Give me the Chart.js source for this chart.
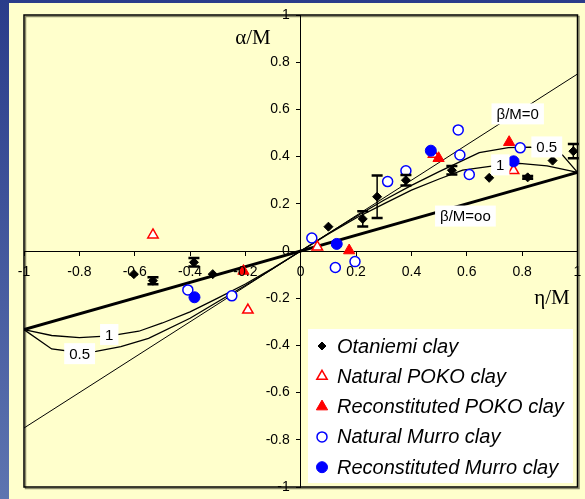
<!DOCTYPE html>
<html>
<head>
<meta charset="utf-8">
<script src="https://cdn.jsdelivr.net/npm/chart.js@4/dist/chart.umd.min.js"></script>
<style>
html, body { margin: 0; padding: 0; background: #ffffcc; }
#wrap { width: 585px; height: 499px; }
</style>
</head>
<body>
<div id="wrap"><canvas id="myChart" width="585" height="499"></canvas></div>
<script>
// tick labels
const xTicks = [-1, -0.8, -0.6, -0.4, -0.2, 0, 0.2, 0.4, 0.6, 0.8, 1];
const yTicks = [-1, -0.8, -0.6, -0.4, -0.2, 0, 0.2, 0.4, 0.6, 0.8, 1];

// Otaniemi clay (err = half height of the error bar, 0 = none)
const otaniemiEta   = [-0.603, -0.534, -0.386, -0.318, 0.10, 0.224, 0.276, 0.38, 0.546, 0.681, 0.82, 0.91, 0.985];
const otaniemiAlpha = [-0.098, -0.126, -0.048, -0.098, 0.103, 0.136, 0.23, 0.30, 0.342, 0.31, 0.312, 0.383, 0.423];
const otaniemiErr   = [0, 0.015, 0.018, 0, 0, 0.032, 0.09, 0.022, 0.018, 0, 0.006, 0, 0.03];

const natPokoEta   = [-0.534, -0.191, 0.06, 0.48, 0.769];
const natPokoAlpha = [0.068, -0.25, 0.017, 0.41, 0.341];

const recPokoEta   = [-0.207, 0.175, 0.498, 0.753];
const recPokoAlpha = [-0.085, 0.002, 0.393, 0.461];

const natMurroEta   = [-0.408, -0.249, 0.04, 0.125, 0.196, 0.314, 0.38, 0.569, 0.575, 0.609, 0.793];
const natMurroAlpha = [-0.165, -0.19, 0.055, -0.07, -0.045, 0.294, 0.34, 0.513, 0.407, 0.324, 0.437];

const recMurroEta   = [-0.384, 0.13, 0.47, 0.769];
const recMurroAlpha = [-0.196, 0.03, 0.425, 0.38];

// model lines for beta/M = 0, 0.5, 1, oo
const lineEndsEta = [-1, 1];
const beta0Alpha  = [-0.75, 0.75];
const betaInfAlpha = [-0.333, 0.333];

const beta05Eta   = [-1, -0.9, -0.8, -0.74, -0.65, -0.55, -0.4, -0.3, -0.2, -0.1, 0, 0.1, 0.2, 0.3, 0.4, 0.5, 0.645, 0.75, 0.83, 0.946, 1];
const beta05Alpha = [-0.333, -0.415, -0.43, -0.425, -0.405, -0.37, -0.285, -0.215, -0.146, -0.074, 0, 0.074, 0.146, 0.215, 0.278, 0.336, 0.417, 0.438, 0.44, 0.406, 0.333];

const beta1Eta   = [-1, -0.9, -0.8, -0.69, -0.585, -0.5, -0.4, -0.3, -0.2, -0.1, 0, 0.1, 0.2, 0.3, 0.4, 0.5, 0.585, 0.69, 0.79, 0.89, 1];
const beta1Alpha = [-0.333, -0.358, -0.367, -0.36, -0.34, -0.305, -0.258, -0.2, -0.14, -0.072, 0, 0.072, 0.14, 0.2, 0.258, 0.305, 0.343, 0.36, 0.371, 0.361, 0.333];

function pts(xs, ys) {
    return xs.map((x, i) => ({x: x, y: ys[i]}));
}

function fmt(v) {
    return String(Number(v.toFixed(1)));
}

const FONT = '"Liberation Sans", Arial, sans-serif';

// background, yellow panel and plot frame
const backdrop = {
    id: 'backdrop',
    beforeDraw(chart) {
        const c = chart.ctx, a = chart.chartArea;
        c.save();
        const g = c.createLinearGradient(0, 0, 0, chart.height);
        g.addColorStop(0, '#2a3c8a');
        g.addColorStop(1, '#5d74b0');
        c.fillStyle = g;
        c.fillRect(0, 0, chart.width, chart.height);
        c.fillStyle = '#ffffcc';
        c.fillRect(9, 3, chart.width - 9, chart.height - 3);
        c.strokeStyle = '#8a8a6a';
        c.lineWidth = 1.5;
        c.strokeRect(a.left + 1.5, a.top + 1.5, a.right - a.left, a.bottom - a.top);
        c.strokeStyle = '#000';
        c.strokeRect(a.left, a.top, a.right - a.left, a.bottom - a.top);
        c.restore();
    }
};

// tick labels sit next to the centred axes
const axisLabels = {
    id: 'axisLabels',
    afterDraw(chart) {
        const c = chart.ctx, xs = chart.scales.x, ys = chart.scales.y;
        const ax = xs.getPixelForValue(0);
        const ay = ys.getPixelForValue(0);
        c.save();
        c.font = '14px ' + FONT;
        c.fillStyle = '#000';
        c.textAlign = 'right';
        c.textBaseline = 'middle';
        yTicks.forEach(v => {
            c.fillText(fmt(v), ax - 11, ys.getPixelForValue(v));
        });
        c.textAlign = 'center';
        xTicks.forEach(v => {
            c.fillText(fmt(v), xs.getPixelForValue(v), ay + 21);
        });
        c.restore();
    }
};

// error bars on the Otaniemi points
const errorBars = {
    id: 'errorBars',
    afterDatasetsDraw(chart) {
        const c = chart.ctx, xs = chart.scales.x, ys = chart.scales.y;
        c.save();
        c.strokeStyle = '#000';
        otaniemiErr.forEach((e, i) => {
            if (!e) return;
            const px = xs.getPixelForValue(otaniemiEta[i]);
            const top = ys.getPixelForValue(otaniemiAlpha[i] + e);
            const bot = ys.getPixelForValue(otaniemiAlpha[i] - e);
            c.lineWidth = 1.5;
            c.beginPath();
            c.moveTo(px, top); c.lineTo(px, bot);
            c.stroke();
            c.lineWidth = 2.5;
            c.beginPath();
            c.moveTo(px - 5.5, top); c.lineTo(px + 5.5, top);
            c.moveTo(px - 5.5, bot); c.lineTo(px + 5.5, bot);
            c.stroke();
        });
        c.restore();
    }
};

// white boxed labels on the model lines
const curveLabels = [
    {text: 'β/M=0', eta: 0.784, alpha: 0.581},
    {text: '0.5', eta: 0.889, alpha: 0.441},
    {text: '1', eta: 0.721, alpha: 0.365},
    {text: 'β/M=oo', eta: 0.595, alpha: 0.148},
    {text: '1', eta: -0.692, alpha: -0.354},
    {text: '0.5', eta: -0.799, alpha: -0.435}
];

const lineLabels = {
    id: 'lineLabels',
    afterDatasetsDraw(chart) {
        const c = chart.ctx, xs = chart.scales.x, ys = chart.scales.y;
        c.save();
        c.font = '15px ' + FONT;
        c.textAlign = 'center';
        c.textBaseline = 'middle';
        curveLabels.forEach(l => {
            const px = xs.getPixelForValue(l.eta), py = ys.getPixelForValue(l.alpha);
            const w = c.measureText(l.text).width + 10;
            const h = 21;
            c.fillStyle = '#fff';
            c.fillRect(px - w / 2, py - h / 2, w, h);
            c.fillStyle = '#000';
            c.fillText(l.text, px, py + 1);
        });
        // axis titles
        c.font = '21px "Liberation Serif", "Times New Roman", serif';
        c.fillText('α/M', 253, 38);
        c.fillText('η/M', 552, 298);
        c.restore();
    }
};

// legend box inside the plot
const boxLegend = {
    id: 'boxLegend',
    afterDraw(chart) {
        const c = chart.ctx;
        c.save();
        c.fillStyle = '#fff';
        c.fillRect(308, 329, 265, 154);
        c.font = 'italic 20px ' + FONT;
        c.textAlign = 'left';
        c.textBaseline = 'middle';
        chart.data.datasets.filter(d => !d.showLine).forEach((d, i) => {
            const y = 346 + i * 30.3;
            c.fillStyle = d.backgroundColor;
            c.strokeStyle = d.borderColor;
            c.lineWidth = d.borderWidth;
            Chart.helpers.drawPoint(c, {
                pointStyle: d.pointStyle,
                radius: d.pointStyle === 'rectRot' ? 4 : d.pointRadius,
                rotation: 0,
                borderWidth: d.borderWidth
            }, 322, y);
            c.fillStyle = '#000';
            c.fillText(d.label, 337, y + 1);
        });
        c.restore();
    }
};

const lineStyle = (label, data, width) => ({
    label: label,
    data: data,
    showLine: true,
    borderColor: '#000',
    borderWidth: width,
    pointRadius: 0,
    tension: 0,
    order: 10
});

const ctx = document.getElementById('myChart').getContext('2d');
const chart = new Chart(ctx, {
    type: 'scatter',
    data: {
        datasets: [
            {
                label: 'Otaniemi clay',
                data: pts(otaniemiEta, otaniemiAlpha),
                pointStyle: 'rectRot',
                pointRadius: 4.5,
                backgroundColor: '#000',
                borderColor: '#000',
                borderWidth: 1,
                order: 1
            },
            {
                label: 'Natural POKO clay',
                data: pts(natPokoEta, natPokoAlpha),
                pointStyle: 'triangle',
                pointRadius: 6,
                backgroundColor: '#fff',
                borderColor: '#ff0000',
                borderWidth: 1.5,
                order: 2
            },
            {
                label: 'Reconstituted POKO clay',
                data: pts(recPokoEta, recPokoAlpha),
                pointStyle: 'triangle',
                pointRadius: 6.5,
                backgroundColor: '#ff0000',
                borderColor: '#ff0000',
                borderWidth: 1,
                order: 1
            },
            {
                label: 'Natural Murro clay',
                data: pts(natMurroEta, natMurroAlpha),
                pointStyle: 'circle',
                pointRadius: 5,
                backgroundColor: '#fff',
                borderColor: '#0000ff',
                borderWidth: 1.5,
                order: 2
            },
            {
                label: 'Reconstituted Murro clay',
                data: pts(recMurroEta, recMurroAlpha),
                pointStyle: 'circle',
                pointRadius: 5.5,
                backgroundColor: '#0000ff',
                borderColor: '#0000ff',
                borderWidth: 1,
                order: 0
            },
            lineStyle('β/M=0', pts(lineEndsEta, beta0Alpha), 1),
            lineStyle('β/M=oo', pts(lineEndsEta, betaInfAlpha), 3),
            lineStyle('0.5', pts(beta05Eta, beta05Alpha), 1.3),
            lineStyle('1', pts(beta1Eta, beta1Alpha), 1.3)
        ]
    },
    options: {
        responsive: false,
        animation: false,
        layout: {
            padding: {left: 24, top: 15, right: 6, bottom: 12}
        },
        plugins: {
            legend: {display: false},
            tooltip: {enabled: false}
        },
        scales: {
            x: {
                type: 'linear',
                position: {y: 0},
                min: -1,
                max: 1,
                afterBuildTicks: s => { s.ticks = xTicks.map(v => ({value: v})); },
                grid: {display: true, drawOnChartArea: false, drawTicks: true, tickLength: 4, color: '#000'},
                border: {display: true, color: '#000', width: 1},
                ticks: {display: false}
            },
            y: {
                type: 'linear',
                position: {x: 0},
                min: -1,
                max: 1,
                afterBuildTicks: s => { s.ticks = yTicks.map(v => ({value: v})); },
                grid: {display: true, drawOnChartArea: false, drawTicks: true, tickLength: 4, color: '#000'},
                border: {display: true, color: '#000', width: 1},
                ticks: {display: false}
            }
        }
    },
    plugins: [backdrop, errorBars, lineLabels, axisLabels, boxLegend]
});
</script>
</body>
</html>
